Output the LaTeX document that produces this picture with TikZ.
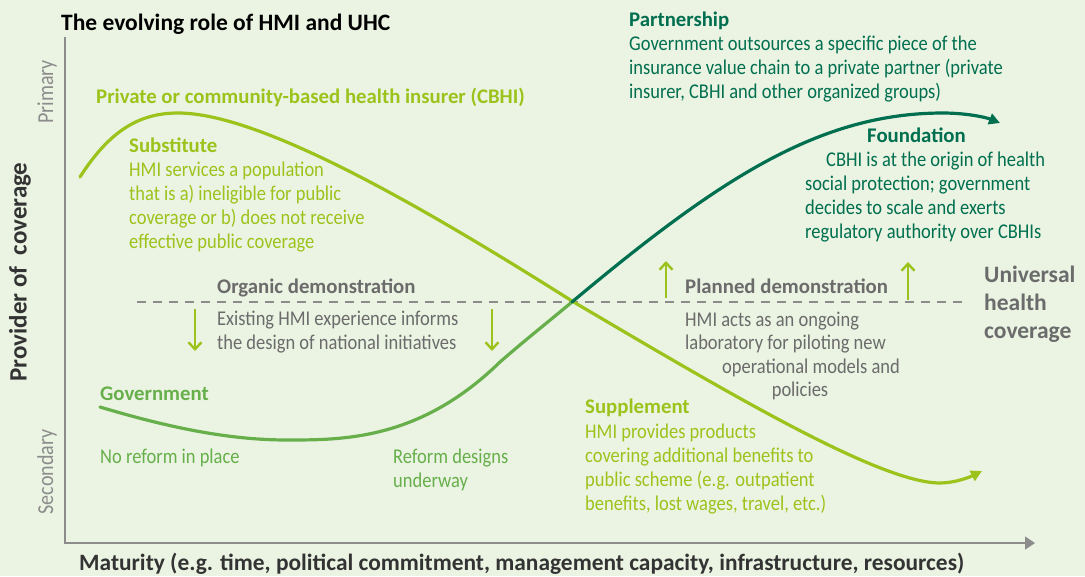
\documentclass[tikz,border=0pt]{standalone}
\usepackage{fontspec}
\setmainfont{Carlito}[FakeStretch=0.88, BoldFeatures={FakeStretch=1.0}]
\usetikzlibrary{arrows.meta}
\definecolor{bg}{HTML}{EBF4E3}
\definecolor{lime}{HTML}{9CC31B}
\definecolor{gov}{HTML}{67AF4B}
\definecolor{dkgreen}{HTML}{006F4F}
\definecolor{txtgray}{HTML}{6B6B6B}
\definecolor{axisgray}{HTML}{8C8C8C}
\definecolor{darktxt}{HTML}{333333}
\begin{document}
\begin{tikzpicture}[x=1pt,y=-1pt,
  lbl/.style={anchor=base west, inner sep=0pt, font=\fontsize{21}{24}\selectfont},
  head/.style={anchor=base west, inner sep=0pt, font=\fontsize{20.8}{24}\selectfont\bfseries},
  sidelbl/.style={inner sep=0pt, rotate=90, font=\fontsize{22.8}{26}\selectfont, text=axisgray},
  smallarrow/.style={lime, line width=2.4pt, -{Straight Barb[length=7pt,width=13pt]}},
  curve/.style={line width=3.2pt, line cap=round}]
\fill[bg] (0,0) rectangle (1085,576);
\useasboundingbox (0,0) rectangle (1085,576);

% title
\node[anchor=base west, inner sep=0pt, font=\fontsize{23.5}{28}\selectfont\bfseries, text=black] (title) at (61,30) {The evolving role of HMI and UHC};

% axes
\coordinate (ytop) at (65,37);
\coordinate (orig) at (65,543);
\coordinate (xend) at (1035,543);
\draw[axisgray, line width=1.3pt, -{Triangle[length=10pt,width=13pt]}] (ytop) -- (orig) -- (xend);
\node[sidelbl] (primary) at (47,92) {Primary};
\node[sidelbl] (secondary) at (47,472) {Secondary};
\node[inner sep=0pt, rotate=90, font=\fontsize{25}{28}\selectfont\bfseries, text=darktxt] (provider) at (20,272) {Provider of \ coverage};
\node[anchor=base west, inner sep=0pt, font=\fontsize{23.4}{28}\selectfont\bfseries, text=darktxt] (maturity) at (79,570) {Maturity (e.g. time, political commitment, management capacity, infrastructure, resources)};

% dashed UHC line
\coordinate (dashL) at (137,302);
\coordinate (dashR) at (964,302);
\draw[axisgray, line width=1.3pt, dash pattern=on 9pt off 7pt] (dashL) -- (dashR);

% curves
\draw[curve, lime, -{Triangle[length=11pt,width=11pt]}]
   (80,177) .. controls (110,130) and (140,113) .. (178,113)
   .. controls (260,113) and (420,205) .. (572,301)
   .. controls (728,393) and (880,483) .. (940,483)
   .. controls (955,483) and (970,477) .. (982,471);
\draw[curve, gov] (100,407) .. controls (170,428) and (230,440) .. (287,440)
   .. controls (344,440) and (420,440) .. (500,362) .. controls (524,341) and (548,322) .. (572,302);
\draw[curve, dkgreen, -{Triangle[length=11pt,width=11pt]}] (572,302) .. controls (720,178) and (820,113) .. (943,113)
   .. controls (965,113) and (985,117) .. (1000,123);

% small arrows
\coordinate (d1s) at (195,309); \coordinate (d1e) at (195,351);
\coordinate (d2s) at (492,309); \coordinate (d2e) at (492,351);
\coordinate (u1s) at (666,298); \coordinate (u1e) at (666,261);
\coordinate (u2s) at (908,300); \coordinate (u2e) at (908,262);
\draw[smallarrow] (d1s) -- (d1e);
\draw[smallarrow] (d2s) -- (d2e);
\draw[smallarrow] (u1s) -- (u1e);
\draw[smallarrow] (u2s) -- (u2e);

% CBHI labels
\node[head, text=lime] (cbhi) at (96,103) {Private or community-based health insurer (CBHI)};
\node[head, text=lime] (subst) at (129,152) {Substitute};
\node[lbl, text=lime] (subst1) at (129,176) {HMI services a population};
\node[lbl, text=lime] (subst2) at (129,200) {that is a) ineligible for public};
\node[lbl, text=lime] (subst3) at (129,224) {coverage or b) does not receive};
\node[lbl, text=lime] (subst4) at (129,248) {effective public coverage};

% Partnership
\node[head, text=dkgreen] (partner) at (629,26) {Partnership};
\node[lbl, text=dkgreen] (partner1) at (629,50) {Government outsources a specific piece of the};
\node[lbl, text=dkgreen] (partner2) at (629,74) {insurance value chain to a private partner (private};
\node[lbl, text=dkgreen] (partner3) at (629,98) {insurer, CBHI and other organized groups)};

% Foundation
\node[head, text=dkgreen] (found) at (867,142) {Foundation};
\node[lbl, text=dkgreen] (found1) at (826,166) {CBHI is at the origin of health};
\node[lbl, text=dkgreen] (found2) at (805,190) {social protection; government};
\node[lbl, text=dkgreen] (found3) at (805,214) {decides to scale and exerts};
\node[lbl, text=dkgreen] (found4) at (805,238) {regulatory authority over CBHIs};

% Organic demonstration
\node[head, text=txtgray] (organic) at (217,293) {Organic demonstration};
\node[lbl, text=txtgray] (organic1) at (217,325) {Existing HMI experience informs};
\node[lbl, text=txtgray] (organic2) at (217,349) {the design of national initiatives};

% Planned demonstration
\node[head, text=txtgray] (planned) at (685,293) {Planned demonstration};
\node[lbl, text=txtgray] (planned1) at (685,326) {HMI acts as an ongoing};
\node[lbl, text=txtgray] (planned2) at (685,349) {laboratory for piloting new};
\node[anchor=base, inner sep=0pt, font=\fontsize{21}{24}\selectfont, text=txtgray] (planned3) at (811,373) {operational models and};
\node[anchor=base, inner sep=0pt, font=\fontsize{21}{24}\selectfont, text=txtgray] (planned4) at (800,396) {policies};

% UHC
\node[anchor=base west, inner sep=0pt, font=\fontsize{23.5}{28}\selectfont\bfseries, text=txtgray] (uhc1) at (984,282) {Universal};
\node[anchor=base west, inner sep=0pt, font=\fontsize{23.5}{28}\selectfont\bfseries, text=txtgray] (uhc2) at (984,310) {health};
\node[anchor=base west, inner sep=0pt, font=\fontsize{23.5}{28}\selectfont\bfseries, text=txtgray] (uhc3) at (984,338) {coverage};

% Government
\node[head, text=gov] (govt) at (100,400) {Government};
\node[lbl, text=gov] (noref) at (100,463) {No reform in place};
\node[lbl, text=gov] (refd1) at (393,463) {Reform designs};
\node[lbl, text=gov] (refd2) at (393,487) {underway};

% Supplement
\node[head, text=lime] (suppl) at (585,413) {Supplement};
\node[lbl, text=lime] (suppl1) at (585,438) {HMI provides products};
\node[lbl, text=lime] (suppl2) at (585,462) {covering additional benefits to};
\node[lbl, text=lime] (suppl3) at (585,486) {public scheme (e.g. outpatient};
\node[lbl, text=lime] (suppl4) at (585,510) {benefits, lost wages, travel, etc.)};
\end{tikzpicture}
\end{document}
